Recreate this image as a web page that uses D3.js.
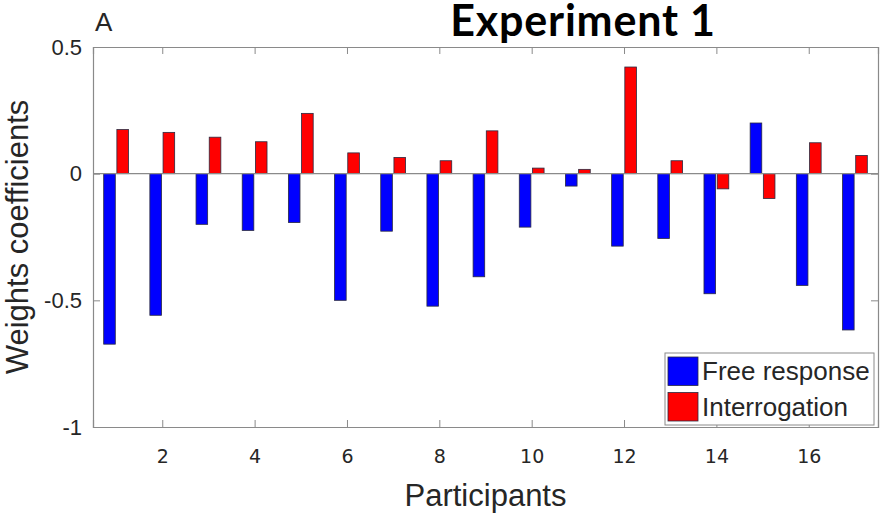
<!DOCTYPE html>
<html>
<head>
<meta charset="utf-8">
<script src="https://cdn.jsdelivr.net/npm/d3@7"></script>
<style>
  body { margin: 0; background: #fff; }
  svg { display: block; }
</style>
</head>
<body>
<div id="chart"></div>
<script>
// participants 1..17
const participants = d3.range(1, 18);
// weights per participant
const freeResponse = [-0.673, -0.559, -0.200, -0.224, -0.193, -0.500, -0.227, -0.523, -0.407, -0.211, -0.049, -0.286, -0.256, -0.474, 0.200, -0.441, -0.617];
const interrogation = [0.174, 0.163, 0.144, 0.126, 0.238, 0.082, 0.064, 0.051, 0.169, 0.022, 0.017, 0.421, 0.051, -0.060, -0.098, 0.122, 0.072];
const seriesNames = ["Free response", "Interrogation"];
const seriesColors = ["#0000ff", "#ff0000"];
const xTicks = [2, 4, 6, 8, 10, 12, 14, 16];
const yTicks = [0.5, 0, -0.5, -1];

const width = 880, height = 513;
const margin = { top: 47, right: 2, bottom: 86, left: 93 };

const svg = d3.select("#chart").append("svg")
  .attr("width", width)
  .attr("height", height);

const x = d3.scaleLinear()
  .domain([0.5, 17.5])
  .range([margin.left, width - margin.right]);

const y = d3.scaleLinear()
  .domain([-1, 0.5])
  .range([height - margin.bottom, margin.top]);

// sub-band inside each participant (in data units)
const xSub = d3.scaleBand()
  .domain(seriesNames)
  .range([-0.2857, 0.2857])
  .paddingInner(0.12)
  .paddingOuter(0.06);

const table = participants.map((p, i) => ({
  p: p,
  values: [freeResponse[i], interrogation[i]]
}));

const axisColor = "#8a8a8a";
const textColor = "#262626";

// bars
const groups = svg.append("g").selectAll("g")
  .data(table)
  .join("g");

groups.selectAll("rect")
  .data(d => d.values.map((v, k) => ({ p: d.p, v: v, k: k })))
  .join("rect")
  .attr("x", d => x(d.p + xSub(seriesNames[d.k])))
  .attr("width", d => x(d.p + xSub.bandwidth()) - x(d.p))
  .attr("y", d => y(Math.max(0, d.v)))
  .attr("height", d => Math.abs(y(d.v) - y(0)))
  .attr("fill", d => seriesColors[d.k])
  .attr("stroke", "#2a2a40")
  .attr("stroke-width", 0.8);

// zero baseline
svg.append("line")
  .attr("x1", x(0.5)).attr("x2", x(17.5))
  .attr("y1", y(0)).attr("y2", y(0))
  .attr("stroke", axisColor)
  .attr("stroke-width", 1.2);

// box axes
const tickLen = 7;
svg.append("g")
  .attr("transform", `translate(0,${y(-1)})`)
  .call(d3.axisBottom(x).tickValues(xTicks).tickSize(-tickLen).tickFormat(d3.format("d")).tickPadding(23))
  .call(g => g.select(".domain").attr("stroke", axisColor).attr("stroke-width", 1.2))
  .call(g => g.selectAll(".tick line").attr("stroke", axisColor))
  .call(g => g.selectAll("text").attr("fill", textColor)
    .style("font-family", "'DejaVu Sans'").style("font-size", "19px"));

svg.append("g")
  .attr("transform", `translate(0,${y(0.5)})`)
  .call(d3.axisTop(x).tickValues(xTicks).tickSize(-tickLen).tickFormat(""))
  .call(g => g.select(".domain").attr("stroke", axisColor).attr("stroke-width", 1.2))
  .call(g => g.selectAll(".tick line").attr("stroke", axisColor));

svg.append("g")
  .attr("transform", `translate(${x(0.5)},0)`)
  .call(d3.axisLeft(y).tickValues(yTicks).tickSize(-tickLen).tickPadding(11).tickFormat(d => d3.format("")(d).replace("−", "-")))
  .call(g => g.select(".domain").attr("stroke", axisColor).attr("stroke-width", 1.2))
  .call(g => g.selectAll(".tick line").attr("stroke", axisColor))
  .call(g => g.selectAll("text").attr("fill", textColor)
    .style("font-family", "'Liberation Sans', Arial").style("font-size", "22px"));

svg.append("g")
  .attr("transform", `translate(${x(17.5)},0)`)
  .call(d3.axisRight(y).tickValues(yTicks).tickSize(-tickLen).tickFormat(""))
  .call(g => g.select(".domain").attr("stroke", axisColor).attr("stroke-width", 1.2))
  .call(g => g.selectAll(".tick line").attr("stroke", axisColor));

// axis labels
svg.append("text")
  .attr("x", (x(0.5) + x(17.5)) / 2)
  .attr("y", 506)
  .attr("text-anchor", "middle")
  .style("font-family", "'Liberation Sans', Arial")
  .style("font-size", "31px")
  .attr("fill", textColor)
  .text("Participants");

svg.append("text")
  .attr("transform", `translate(28,${(y(-1) + y(0.5)) / 2}) rotate(-90)`)
  .attr("text-anchor", "middle")
  .style("font-family", "'Liberation Sans', Arial")
  .style("font-size", "31px")
  .attr("fill", textColor)
  .text("Weights coefficients");

// panel letter and title
svg.append("text")
  .attr("x", 95).attr("y", 31)
  .style("font-family", "'Liberation Sans', Arial")
  .style("font-size", "26px")
  .attr("fill", textColor)
  .text("A");

svg.append("text")
  .attr("x", 583).attr("y", 36)
  .attr("text-anchor", "middle")
  .style("font-family", "Lato")
  .style("font-weight", "bold")
  .style("font-size", "43px")
  .style("letter-spacing", "0.8px")
  .attr("fill", "#000")
  .text("Experiment 1");

// legend
const legend = svg.append("g").attr("transform", "translate(665,353)");
legend.append("rect")
  .attr("width", 209).attr("height", 72)
  .attr("fill", "#fff")
  .attr("stroke", axisColor)
  .attr("stroke-width", 1);

const items = legend.selectAll("g.item")
  .data(seriesNames)
  .join("g")
  .attr("class", "item")
  .attr("transform", (d, i) => `translate(3,${4 + i * 35.5})`);

items.append("rect")
  .attr("width", 30).attr("height", 28.5)
  .attr("fill", (d, i) => seriesColors[i])
  .attr("stroke", "#2a2a40")
  .attr("stroke-width", 0.8);

items.append("text")
  .attr("x", 34).attr("y", 23)
  .style("font-family", "'Liberation Sans', Arial")
  .style("font-size", "26px")
  .attr("fill", textColor)
  .text(d => d);
</script>
</body>
</html>
